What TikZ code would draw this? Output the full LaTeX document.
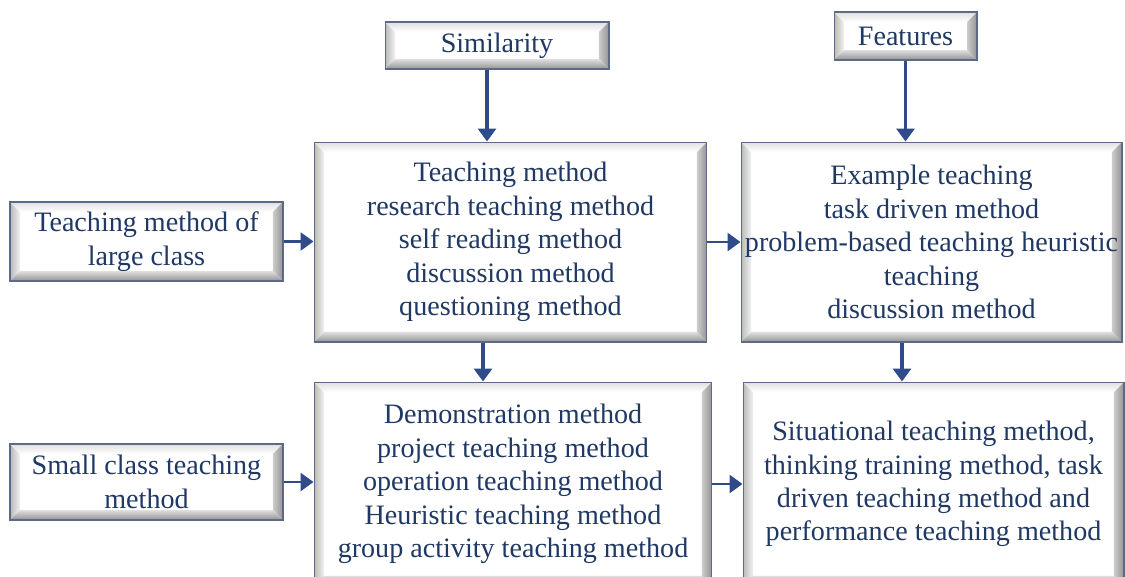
\documentclass[tikz,border=0pt]{standalone}
\usepackage{fontspec}
\setmainfont{Liberation Serif}
\usetikzlibrary{arrows.meta,calc}

\definecolor{navy}{HTML}{1F3864}
\definecolor{arrowblue}{HTML}{2F4B8A}
\definecolor{rim}{HTML}{5C6A86}

\def\bv{0.2cm}

\begin{document}
\begin{tikzpicture}[x=0.02cm, y=-0.02cm,
    bevel/.style = {path picture={
        \coordinate (nw) at (path picture bounding box.north west);
        \coordinate (ne) at (path picture bounding box.north east);
        \coordinate (sw) at (path picture bounding box.south west);
        \coordinate (se) at (path picture bounding box.south east);
        \shade[left color=gray!55, right color=gray!10] (nw) -- (sw) -- ([shift={(\bv,\bv)}]sw) -- ([shift={(\bv,-\bv)}]nw) -- cycle;
        \shade[top color=gray!25, bottom color=white] (nw) -- (ne) -- ([shift={(-\bv,-\bv)}]ne) -- ([shift={(\bv,-\bv)}]nw) -- cycle;
        \shade[left color=gray!40, right color=gray!85] (se) -- (ne) -- ([shift={(-\bv,-\bv)}]ne) -- ([shift={(-\bv,\bv)}]se) -- cycle;
        \shade[top color=gray!25, bottom color=gray!85] (sw) -- (se) -- ([shift={(-\bv,\bv)}]se) -- ([shift={(\bv,\bv)}]sw) -- cycle;
    }},
    box/.style = {draw=rim, line width=0.6pt, fill=white, bevel, align=center, inner sep=0pt,
        text=navy, font=\fontsize{16}{19}\selectfont},
    arr/.style = {draw=arrowblue, line width=2.2pt, -{Triangle[width=0.36cm, length=0.26cm]}},
    harr/.style = {arr, line width=1.6pt}]

    \useasboundingbox (0,0) rectangle (1125,576);
    \clip (0,0) rectangle (1125,576);

    \node[box, minimum width=4.48cm, minimum height=0.94cm] (sim) at (497,45.5) {Similarity};
    \node[box, minimum width=2.86cm, minimum height=0.96cm] (feat) at (905.5,36) {Features};

    \node[box, minimum width=5.46cm, minimum height=1.58cm] (large) at (146.5,241.5) {Teaching method of\\large class};
    \node[box, minimum width=7.86cm, minimum height=4cm] (topmid) at (510.5,242)
        {Teaching method\\research teaching method\\self reading method\\discussion method\\questioning method};
    \node[box, minimum width=7.62cm, minimum height=4cm] (topright) at (931.5,242)
        {Example teaching\\task driven method\\\makebox[7.3cm]{problem-based teaching heuristic}\\teaching\\discussion method};

    \node[box, minimum width=5.46cm, minimum height=1.52cm] (small) at (146.5,482) {Small class teaching\\method};
    \node[box, minimum width=7.96cm, minimum height=4.08cm] (botmid) at (513,484)
        {Demonstration method\\project teaching method\\operation teaching method\\Heuristic teaching method\\group activity teaching method};
    \node[box, minimum width=7.62cm, minimum height=4.08cm] (botright) at (933.5,484)
        {Situational teaching method,\\thinking training method, task\\driven teaching method and\\performance teaching method};

    % connectors
    \draw[arr] ([xshift=-0.2cm]sim.south) -- ([xshift=-0.2cm]sim.south |- topmid.north);
    \draw[arr] (feat.south) -- (feat.south |- topright.north);
    \draw[arr] ([xshift=-0.55cm]topmid.south) -- ([xshift=-0.55cm]topmid.south |- botmid.north);
    \draw[arr] ([xshift=-0.59cm]topright.south) -- ([xshift=-0.59cm]topright.south |- botright.north);

    \draw[harr] (large.east) -- (large.east -| topmid.west);
    \draw[harr] (topmid.east) -- (topright.west);
    \draw[harr] (small.east) -- (small.east -| botmid.west);
    \draw[harr] (botmid.east) -- (botright.west);

\end{tikzpicture}
\end{document}
